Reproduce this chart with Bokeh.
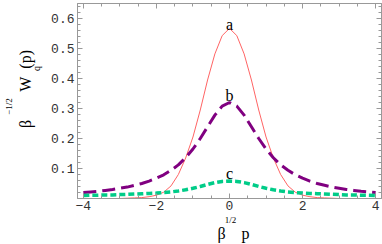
from bokeh.plotting import figure
from bokeh.models import Range1d, FixedTicker, LinearAxis, Label
from bokeh.embed import file_html
from bokeh.resources import INLINE

# ---- data ----
x = [-4.0, -3.8, -3.6, -3.4, -3.2, -3.0, -2.8, -2.6, -2.4, -2.2, -2.0,
     -1.8, -1.6, -1.4, -1.2, -1.0, -0.8, -0.6, -0.4, -0.2, 0.0,
     0.2, 0.4, 0.6, 0.8, 1.0, 1.2, 1.4, 1.6, 1.8, 2.0,
     2.2, 2.4, 2.6, 2.8, 3.0, 3.2, 3.4, 3.6, 3.8, 4.0]
curve_a = [0.0, 0.0, 0.0, 0.0, 0.0, 0.0, 0.001, 0.002, 0.003, 0.006, 0.011,
           0.021, 0.042, 0.080, 0.135, 0.205, 0.295, 0.395, 0.482, 0.543, 0.567,
           0.543, 0.482, 0.395, 0.295, 0.205, 0.135, 0.080, 0.042, 0.021, 0.011,
           0.006, 0.003, 0.002, 0.001, 0.0, 0.0, 0.0, 0.0, 0.0, 0.0]
curve_b = [0.020, 0.022, 0.024, 0.027, 0.030, 0.034, 0.038, 0.044, 0.050, 0.058, 0.068,
           0.079, 0.094, 0.112, 0.136, 0.165, 0.200, 0.239, 0.278, 0.308, 0.320,
           0.308, 0.278, 0.239, 0.200, 0.165, 0.136, 0.112, 0.094, 0.079, 0.068,
           0.058, 0.050, 0.044, 0.038, 0.034, 0.030, 0.027, 0.024, 0.022, 0.020]
curve_c = [0.010, 0.011, 0.011, 0.012, 0.012, 0.013, 0.014, 0.015, 0.016, 0.017, 0.018,
           0.020, 0.022, 0.025, 0.029, 0.034, 0.040, 0.047, 0.053, 0.057, 0.058,
           0.057, 0.053, 0.047, 0.040, 0.034, 0.029, 0.025, 0.022, 0.020, 0.018,
           0.017, 0.016, 0.015, 0.014, 0.013, 0.012, 0.012, 0.011, 0.011, 0.010]
curve_names = ["a", "b", "c"]
name_y = [0.581, 0.345, 0.085]
x_ticks = [-4, -2, 0, 2, 4]
x_tick_labels = ["\u22124", "\u22122", "0", "2", "4"]
y_ticks = [0.1, 0.2, 0.3, 0.4, 0.5, 0.6]
y_tick_labels = ["0.1", "0.2", "0.3", "0.4", "0.5", "0.6"]

X0, X1 = -4.16, 4.16
Y0, Y1 = 0.0, 0.65
NB = "\u00a0"

p = figure(width=382, height=242, output_backend="svg", toolbar_location=None,
           x_range=Range1d(X0, X1), y_range=Range1d(Y0, Y1),
           min_border_left=71, min_border_right=1, min_border_top=1, min_border_bottom=46,
           margin=(2, 0, 0, 0))
p.xaxis.visible = False
p.yaxis.visible = False
p.grid.visible = False
p.outline_line_color = "#999999"
p.background_fill_color = "white"
p.border_fill_color = "white"

x_minor = [-3.5, -3, -2.5, -1.5, -1, -0.5, 0.5, 1, 1.5, 2.5, 3, 3.5]
y_minor = [round(0.02 * i, 2) for i in range(1, 33) if i % 5 != 0]


def tick_axis(ticks, minor, labels, show):
    ax = LinearAxis(ticker=FixedTicker(ticks=ticks, minor_ticks=minor))
    ax.axis_line_color = "#999999"
    ax.major_tick_line_color = "#999999"
    ax.minor_tick_line_color = "#999999"
    ax.major_tick_in = 5
    ax.major_tick_out = 0
    ax.minor_tick_in = 3
    ax.minor_tick_out = 0
    if show:
        ax.major_label_overrides = {t: l for t, l in zip(ticks, labels)}
        ax.major_label_text_font = "Liberation Mono"
        ax.major_label_text_font_size = "13px"
        ax.major_label_text_color = "#333333"
    else:
        ax.major_label_text_color = None
        ax.major_label_text_font_size = "1px"
        ax.major_label_standoff = 0
    return ax


def title_axis(text, size, standoff):
    ax = LinearAxis(ticker=FixedTicker(ticks=[]))
    ax.axis_line_color = None
    ax.major_tick_line_color = None
    ax.minor_tick_line_color = None
    ax.major_tick_out = 0
    ax.major_tick_in = 0
    ax.minor_tick_out = 0
    ax.minor_tick_in = 0
    ax.major_label_standoff = 0
    ax.major_label_text_font_size = "1px"
    ax.axis_label = text
    ax.axis_label_text_font = "Liberation Serif"
    ax.axis_label_text_font_style = "normal"
    ax.axis_label_text_font_size = size
    ax.axis_label_text_color = "black"
    ax.axis_label_standoff = standoff
    return ax


bx = tick_axis(x_ticks, x_minor, x_tick_labels, True)
bx.major_label_standoff = 2
ly = tick_axis(y_ticks, y_minor, y_tick_labels, True)
ly.major_label_standoff = 3
p.add_layout(bx, "below")
p.add_layout(ly, "left")
p.add_layout(tick_axis(x_ticks, x_minor, x_tick_labels, False), "above")
p.add_layout(tick_axis(y_ticks, y_minor, y_tick_labels, False), "right")

# x axis title: beta^(1/2) p  (superscript row, then main row)
p.add_layout(title_axis(NB * 1 + "1/2", "9px", 2), "below")
p.add_layout(title_axis(NB * 2 + "\u03b2" + NB * 4 + "p", "16px", -3), "below")

# y axis title: beta^(-1/2) W_q(p)  (subscript column, main column, superscript column)
p.add_layout(title_axis(NB * 26 + "q", "10px", 7), "left")
p.add_layout(title_axis(NB * 6 + "\u03b2" + NB * 7 + "W" + NB * 2 + "(p)", "16px", -6), "left")
p.add_layout(title_axis("\u22121/2" + NB * 5, "9px", 0), "left")

p.line(x, curve_a, line_color="#FF6464", line_width=1)
p.line(x, curve_b, line_color="#800080", line_width=3, line_dash="13 6")
p.line(x, curve_c, line_color="#00CC88", line_width=3.5, line_dash="6 3")

for nm, yy in zip(curve_names, name_y):
    p.add_layout(Label(x=0, y=yy, text=nm, text_font="Liberation Serif",
                       text_font_size="16px", text_align="center",
                       text_baseline="alphabetic", text_color="black"))

open("out.html", "w").write(file_html(p, INLINE))
